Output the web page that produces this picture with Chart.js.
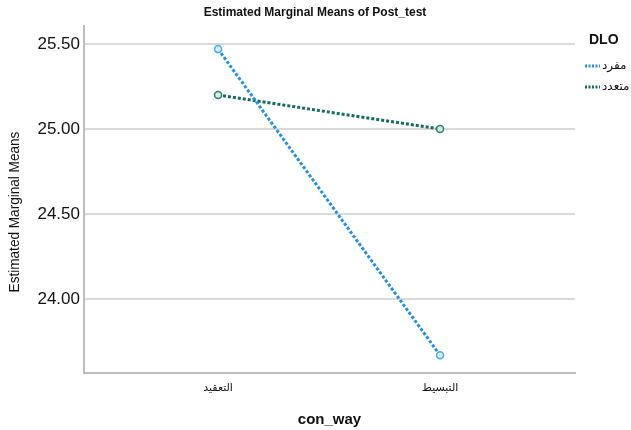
<!DOCTYPE html>
<html lang="en">
<head>
    <meta charset="UTF-8">
    <title>Estimated Marginal Means of Post_test</title>
    <script src="https://cdn.jsdelivr.net/npm/chart.js"></script>
    <style>
        body {
            margin: 0;
            padding: 0;
            background: #ffffff;
        }

        .chart-box {
            width: 631px;
            height: 430px;
        }
    </style>
</head>
<body>
    <div class="chart-box">
        <canvas id="emmChart" width="631" height="430"></canvas>
    </div>

    <script>
        // data
        const categories = ['التعقيد', 'التبسيط'];
        const singleValues = [25.47, 23.67];   // مفرد
        const multiValues = [25.20, 25.00];    // متعدد
        const seriesNames = ['مفرد', 'متعدد'];
        const yTicks = [24.00, 24.50, 25.00, 25.50];

        const blue = '#1f8fe8';
        const green = '#146b5e';

        const toPoints = vals => vals.map((v, i) => ({ x: i, y: v }));

        // title, axis titles and legend drawn by hand
        const textPlugin = {
            id: 'textPlugin',
            afterDraw(chart) {
                const ctx = chart.ctx;
                const area = chart.chartArea;
                ctx.save();
                ctx.fillStyle = '#111';
                ctx.textBaseline = 'middle';

                ctx.font = 'bold 12px "Liberation Sans", Arial, sans-serif';
                ctx.textAlign = 'center';
                ctx.fillText('Estimated Marginal Means of Post_test', 315, 13);

                ctx.font = 'bold 15px "Liberation Sans", Arial, sans-serif';
                ctx.fillText('con_way', (area.left + area.right) / 2, 420);

                ctx.save();
                ctx.translate(15, 212);
                ctx.rotate(-Math.PI / 2);
                ctx.scale(0.97, 1);
                ctx.font = '14px "Liberation Sans", Arial, sans-serif';
                ctx.fillText('Estimated Marginal Means', 0, 0);
                ctx.restore();

                // legend
                ctx.font = 'bold 14px "Liberation Sans", Arial, sans-serif';
                ctx.textAlign = 'left';
                ctx.fillText('DLO', 589, 40);

                ctx.font = '12px "DejaVu Sans", "Liberation Sans", sans-serif';
                chart.data.datasets.forEach((ds, i) => {
                    const y = 66 + i * 21;
                    ctx.strokeStyle = ds.borderColor;
                    ctx.lineWidth = 3;
                    ctx.setLineDash([2, 1.5]);
                    ctx.beginPath();
                    ctx.moveTo(585, y);
                    ctx.lineTo(600, y);
                    ctx.stroke();
                    ctx.setLineDash([]);
                    ctx.textAlign = 'left';
                    ctx.fillText(ds.label, 602, y);
                });
                ctx.restore();
            }
        };

        const ctxEmm = document.getElementById('emmChart').getContext('2d');
        new Chart(ctxEmm, {
            type: 'line',
            data: {
                datasets: [
                    {
                        label: seriesNames[0],
                        data: toPoints(singleValues),
                        borderColor: blue,
                        borderWidth: 3,
                        borderDash: [3, 2],
                        pointRadius: 3.5,
                        pointBorderWidth: 1.5,
                        pointBorderColor: '#4aa8f0',
                        pointBackgroundColor: '#d8ecfc'
                    },
                    {
                        label: seriesNames[1],
                        data: toPoints(multiValues),
                        borderColor: green,
                        borderWidth: 3,
                        borderDash: [3, 2],
                        pointRadius: 3.5,
                        pointBorderWidth: 1.5,
                        pointBorderColor: '#2f7f72',
                        pointBackgroundColor: '#d6ebe7'
                    }
                ]
            },
            options: {
                responsive: false,
                animation: false,
                layout: {
                    padding: { top: 26, right: 56, left: 0, bottom: 0 }
                },
                plugins: {
                    legend: { display: false },
                    tooltip: { enabled: false }
                },
                scales: {
                    x: {
                        type: 'linear',
                        min: -0.604,
                        max: 1.608,
                        afterBuildTicks: axis => {
                            axis.ticks = categories.map((c, i) => ({ value: i }));
                        },
                        afterFit: axis => { axis.height = 57; },
                        ticks: {
                            callback: value => categories[value],
                            color: '#111',
                            padding: 9,
                            maxRotation: 0,
                            font: { family: '"DejaVu Sans", "Liberation Sans", sans-serif', size: 11 }
                        },
                        grid: { display: false, drawTicks: false },
                        border: { color: '#bdbdbd', width: 2 }
                    },
                    y: {
                        min: 23.565,
                        max: 25.606,
                        afterBuildTicks: axis => {
                            axis.ticks = yTicks.map(v => ({ value: v }));
                        },
                        afterFit: axis => { axis.width = 84; },
                        ticks: {
                            callback: value => value.toFixed(2),
                            color: '#111',
                            padding: 4,
                            font: { family: '"Liberation Sans", Arial, sans-serif', size: 17 }
                        },
                        grid: { color: '#d9d9d9', lineWidth: 2, drawTicks: false },
                        border: { color: '#bdbdbd', width: 2 }
                    }
                }
            },
            plugins: [textPlugin]
        });
    </script>
</body>
</html>
